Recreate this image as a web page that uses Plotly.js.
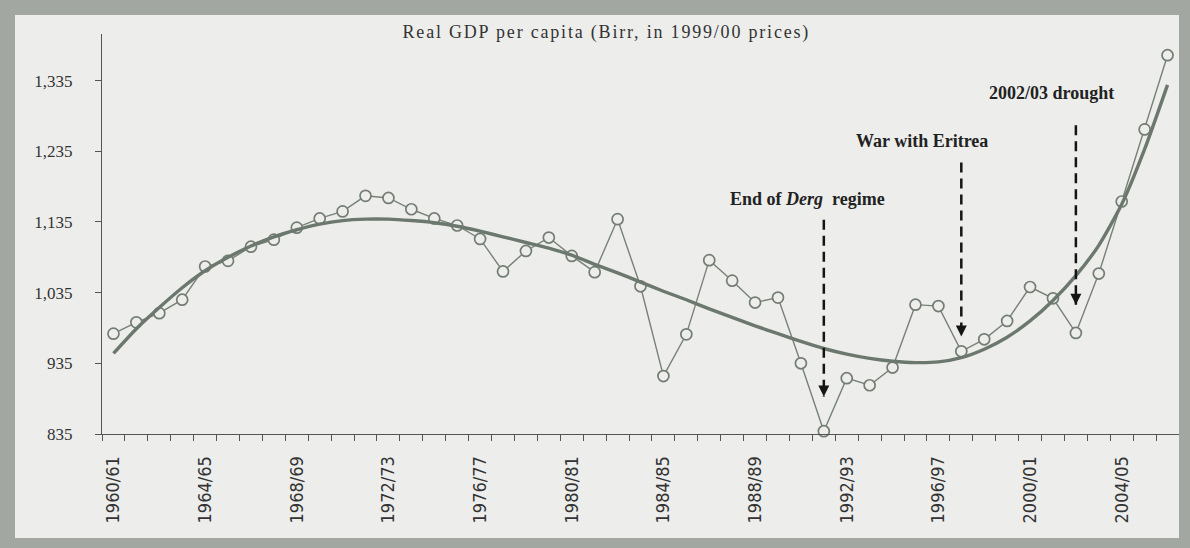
<!DOCTYPE html>
<html><head><meta charset="utf-8">
<script src="https://cdn.plot.ly/plotly-3.0.1.min.js"></script>
<style>
html,body{margin:0;padding:0;width:1190px;height:548px;overflow:hidden;background:#a2a7a2;}
#chart{position:absolute;left:15px;top:15px;width:1164px;height:523px;}
.gtitle{letter-spacing:1.8px;}
</style></head>
<body><div id="chart"></div>
<script>
// ---- data ----
const categories = ["1960/61","1961/62","1962/63","1963/64","1964/65","1965/66","1966/67","1967/68","1968/69","1969/70",
"1970/71","1971/72","1972/73","1973/74","1974/75","1975/76","1976/77","1977/78","1978/79","1979/80",
"1980/81","1981/82","1982/83","1983/84","1984/85","1985/86","1986/87","1987/88","1988/89","1989/90",
"1990/91","1991/92","1992/93","1993/94","1994/95","1995/96","1996/97","1997/98","1998/99","1999/00",
"2000/01","2001/02","2002/03","2003/04","2004/05","2005/06","2006/07"];
const gdpPerCapita = [977,993,1006,1025,1072,1080,1100,1110,1127,1140,
1150,1172,1169,1153,1140,1130,1111,1065,1094,1113,
1087,1064,1139,1044,917,976,1081,1052,1021,1028,
935,839,914,904,929,1018,1016,952,969,995,
1043,1027,978,1062,1164,1266,1371];
const trend = [949,984,1014,1042,1066,1085,1101,1114,1124,1132,
1137,1139,1139,1137,1134,1129,1122,1114,1106,1098,
1088,1075,1063,1050,1037,1025,1012,1000,988,977,
966,956,948,942,938,936,937,943,955,972,
995,1024,1059,1102,1160,1238,1329];
const xTickLabels = ["1960/61","1964/65","1968/69","1972/73","1976/77","1980/81","1984/85","1988/89","1992/93","1996/97","2000/01","2004/05"];
const yTickValues = [835,935,1035,1135,1235,1335];
const eventLabels = ["End of <i>Derg</i>  regime","War with Eritrea","2002/03 drought"];
const eventCategory = ["1991/92","1997/98","2002/03"];
const eventLabelX = [30.3,35.3,40.95];
const eventLabelY = [1167,1249,1317];
const eventArrowTop = [1138,1219,1272];
const eventArrowTip = [888,973,1018];

// ---- build ----
const xIdx = categories.map((c,i)=>i);
const tickVals = xTickLabels.map(l=>categories.indexOf(l));
const lineCol = '#778177';

const traces = [];
traces.push({x:xIdx, y:gdpPerCapita, type:'scatter', mode:'lines+markers', cliponaxis:false,
  line:{color:lineCol, width:1.4},
  marker:{symbol:'circle', size:11, color:'#edeeec', line:{color:'#737d73', width:1.7}}});
traces.push({x:xIdx, y:trend, type:'scatter', mode:'lines', cliponaxis:false,
  line:{color:'#6c786d', width:3.4, shape:'spline', smoothing:0.6}});
eventCategory.forEach((c,k)=>{
  const xi = categories.indexOf(c);
  traces.push({x:[xi,xi], y:[eventArrowTop[k], eventArrowTip[k]], type:'scatter', mode:'lines', cliponaxis:false,
    line:{color:'#151515', width:2.5, dash:'10px,6px'}});
  traces.push({x:[xi], y:[eventArrowTip[k]], type:'scatter', mode:'markers', cliponaxis:false,
    marker:{symbol:'arrow-down', size:11, color:'#151515'}});
});

const annotations = eventLabels.map((t,k)=>({
  x:eventLabelX[k], y:eventLabelY[k], xref:'x', yref:'y', text:'<b>'+t+'</b>', showarrow:false,
  font:{family:'Liberation Serif, Times New Roman, serif', size:18, color:'#222'}, xanchor:'center', yanchor:'middle'
}));

const layout = {
  width:1164, height:523,
  margin:{l:87, r:0, t:19, b:104, pad:0},
  paper_bgcolor:'#edeeec', plot_bgcolor:'#edeeec',
  showlegend:false, hovermode:false,
  title:{text:'Real GDP per capita (Birr, in 1999/00 prices)', x:0.508, xanchor:'center', y:0.969, yanchor:'middle', yref:'container',
    font:{family:'Liberation Serif, Times New Roman, serif', size:18, color:'#333'}},
  xaxis:{type:'linear', range:[-0.5, categories.length-0.5], tickmode:'array', tickvals:tickVals, ticktext:xTickLabels,
    ticks:'', tickangle:-90, ticklabelstandoff:14,
    tickfont:{family:'Liberation Sans Narrow, Arial Narrow, DejaVu Sans Condensed, sans-serif', size:18, color:'#333'},
    showline:true, linecolor:'#555', linewidth:1, showgrid:false, zeroline:false,
    minor:{ticks:'outside', ticklen:6, tickwidth:1, tickcolor:'#555', tickmode:'linear', tick0:-0.5, dtick:1, showgrid:false}},
  yaxis:{range:[835,1401], tickmode:'array', tickvals:yTickValues, tickformat:',d', ticks:'outside', ticklen:6, tickcolor:'#555',
    ticklabelstandoff:19, tickfont:{family:'Liberation Serif, Times New Roman, serif', size:17, color:'#333'},
    showline:true, linecolor:'#555', linewidth:1, showgrid:false, zeroline:false},
  annotations:annotations
};
Plotly.newPlot('chart', traces, layout, {displayModeBar:false, staticPlot:true});
</script>
</body></html>
